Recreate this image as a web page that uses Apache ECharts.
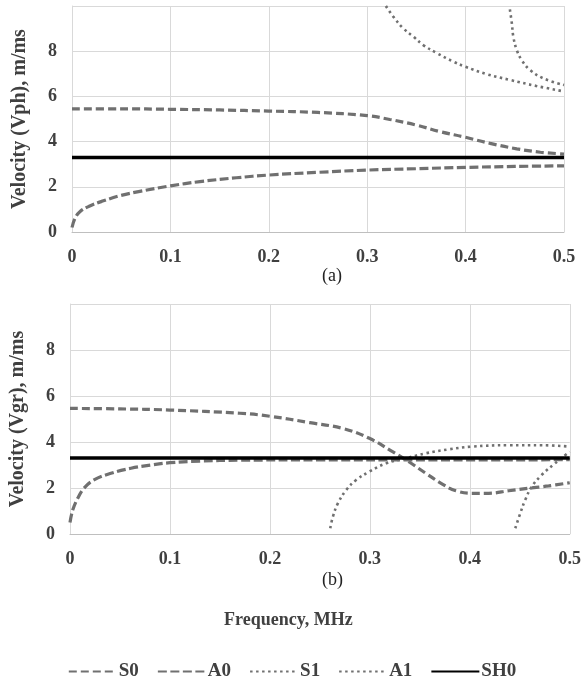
<!DOCTYPE html>
<html>
<head>
<meta charset="utf-8">
<script src="https://cdn.jsdelivr.net/npm/echarts@6/dist/echarts.min.js"></script>
<style>
  html, body { margin: 0; padding: 0; background: #fff; }
  #chart { width: 584px; height: 682px; }
</style>
</head>
<body>
<div id="chart"></div>
<script>
// values: [frequency MHz, velocity m/ms]
const seriesNames = ['S0', 'A0', 'S1', 'A1', 'SH0'];
const xTicks = [0, 0.1, 0.2, 0.3, 0.4, 0.5];

// (a) phase velocity
const s0Ph = [[0, 5.45], [0.05, 5.45], [0.1, 5.43], [0.15, 5.4], [0.2, 5.35], [0.25, 5.29], [0.3, 5.15], [0.323, 4.98], [0.35, 4.73], [0.374, 4.44], [0.4, 4.19], [0.425, 3.92], [0.452, 3.68], [0.476, 3.53], [0.5, 3.45]];
const a0Ph = [[0, 0.2], [0.003, 0.6], [0.008, 0.9], [0.018, 1.15], [0.032, 1.38], [0.049, 1.61], [0.069, 1.8], [0.1, 2.04], [0.13, 2.23], [0.167, 2.4], [0.2, 2.52], [0.25, 2.64], [0.3, 2.74], [0.35, 2.8], [0.4, 2.86], [0.45, 2.9], [0.5, 2.93]];
const s1Ph = [[0.319, 10], [0.3265, 9.53], [0.3367, 9.01], [0.347, 8.64], [0.357, 8.27], [0.371, 7.91], [0.3875, 7.54], [0.4, 7.31], [0.421, 6.99], [0.445, 6.73], [0.472, 6.46], [0.5, 6.22]];
const a1Ph = [[0.445, 9.85], [0.447, 9.23], [0.4485, 8.64], [0.452, 8.05], [0.457, 7.61], [0.4654, 7.17], [0.479, 6.8], [0.5, 6.5]];
const sh0Ph = [[0, 3.3], [0.5, 3.3]];

// (b) group velocity
const s0Gr = [[0, 5.46], [0.05, 5.44], [0.1, 5.39], [0.17, 5.25], [0.2, 5.12], [0.24, 4.84], [0.273, 4.59], [0.2995, 4.16], [0.3227, 3.58], [0.339, 3.14], [0.356, 2.64], [0.3725, 2.17], [0.386, 1.88], [0.402, 1.77], [0.419, 1.77], [0.439, 1.88], [0.459, 1.99], [0.479, 2.09], [0.5, 2.23]];
const a0Gr = [[0, 0.5], [0.0027, 1.04], [0.0077, 1.55], [0.014, 1.99], [0.024, 2.35], [0.041, 2.64], [0.061, 2.86], [0.081, 3.0], [0.1, 3.1], [0.13, 3.17], [0.17, 3.21], [0.25, 3.22], [0.35, 3.22], [0.5, 3.23]];
const s1Gr = [[0.2604, 0.25], [0.263, 0.75], [0.268, 1.33], [0.2763, 1.91], [0.2863, 2.35], [0.2995, 2.71], [0.3161, 3.07], [0.336, 3.29], [0.356, 3.51], [0.379, 3.68], [0.402, 3.8], [0.439, 3.86], [0.472, 3.86], [0.5, 3.8]];
const a1Gr = [[0.4455, 0.25], [0.4505, 0.9], [0.4554, 1.48], [0.462, 2.06], [0.472, 2.57], [0.4853, 3.07], [0.5, 3.58]];
const sh0Gr = [[0, 3.3], [0.5, 3.3]];

const font = 'Liberation Serif';
const textCol = '#404040';
const gray = '#707070';

const styles = {
  S0: { color: gray, width: 3.2, type: [8, 4] },
  A0: { color: gray, width: 3.2, type: [9, 3.5] },
  S1: { color: gray, width: 2.6, type: [2.5, 3.5] },
  A1: { color: gray, width: 2.6, type: [2.5, 3.5] },
  SH0: { color: '#000', width: 3.5, type: 'solid' }
};

function xAx(gridIndex) {
  return {
    type: 'value', gridIndex, min: 0, max: 0.5, interval: 0.1,
    axisLine: { lineStyle: { color: '#bfbfbf' } },
    axisTick: { show: false },
    splitLine: { lineStyle: { color: '#d9d9d9' } },
    axisLabel: { color: textCol, fontFamily: font, fontWeight: 'bold', fontSize: 18, margin: 16, formatter: v => xTicks.includes(+v.toFixed(1)) ? String(+v.toFixed(1)) : '' }
  };
}
function yAx(gridIndex, name) {
  return {
    type: 'value', gridIndex, min: 0, max: 10, interval: 2,
    name, nameLocation: 'middle', nameGap: 42, nameRotate: 90,
    nameTextStyle: { color: textCol, fontFamily: font, fontWeight: 'bold', fontSize: 20 },
    axisLine: { show: true, lineStyle: { color: '#d9d9d9' } },
    axisTick: { show: false },
    splitLine: { lineStyle: { color: '#d9d9d9' } },
    axisLabel: { color: textCol, fontFamily: font, fontWeight: 'bold', fontSize: 18, margin: 15, formatter: v => v === 10 ? '' : v }
  };
}
function line(name, data, idx) {
  return {
    name, type: 'line', data, xAxisIndex: idx, yAxisIndex: idx,
    showSymbol: false, symbol: 'none', smooth: 0.4,
    lineStyle: styles[name], itemStyle: { color: styles[name].color },
    z: name === 'SH0' ? 5 : 3, animation: false
  };
}

const chart = echarts.init(document.getElementById('chart'));
chart.setOption({
  animation: false,
  title: [
    { text: '(a)', left: 317, top: 262, textStyle: { color: '#222', fontFamily: font, fontWeight: 'normal', fontSize: 18 } },
    { text: '(b)', left: 317, top: 566, textStyle: { color: '#222', fontFamily: font, fontWeight: 'normal', fontSize: 18 } },
    { text: 'Frequency, MHz', left: 219, top: 606, textStyle: { color: textCol, fontFamily: font, fontWeight: 'bold', fontSize: 18 } }
  ],
  legend: {
    data: seriesNames, top: 657, left: 'center',
    itemWidth: 48, itemHeight: 14, itemGap: 18,
    itemStyle: { opacity: 0 },
    textStyle: { color: textCol, fontFamily: font, fontWeight: 'bold', fontSize: 19, padding: [0, 0, 0, -3] }
  },
  grid: [
    { left: 72, top: 6, width: 492, height: 226 },
    { left: 69, top: 304, width: 503, height: 230 }
  ],
  xAxis: [xAx(0), xAx(1)],
  yAxis: [yAx(0, 'Velocity (Vph), m/ms'), yAx(1, 'Velocity (Vgr), m/ms')],
  series: [
    line('S0', s0Ph, 0), line('A0', a0Ph, 0), line('S1', s1Ph, 0), line('A1', a1Ph, 0), line('SH0', sh0Ph, 0),
    line('S0', s0Gr, 1), line('A0', a0Gr, 1), line('S1', s1Gr, 1), line('A1', a1Gr, 1), line('SH0', sh0Gr, 1)
  ]
});
</script>
</body>
</html>
